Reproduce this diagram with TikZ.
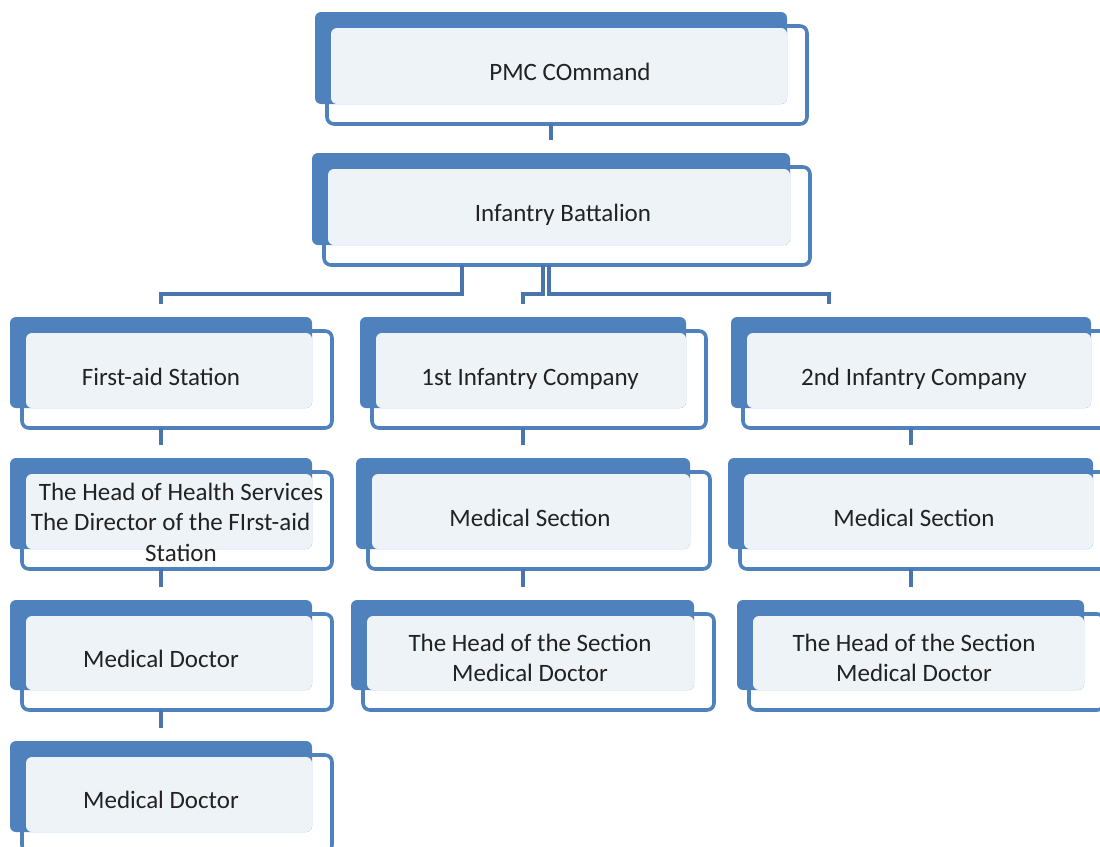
\documentclass[tikz,border=0pt]{standalone}
\usepackage{fontspec}
\setmainfont{Carlito}
\usetikzlibrary{calc}
\definecolor{boxblue}{HTML}{4F81BD}
\definecolor{lightfill}{HTML}{EEF3F8}
\definecolor{connblue}{HTML}{4A74AC}
\definecolor{txtc}{HTML}{222222}
\tikzset{
 outl/.style={draw=boxblue, line width=3.6pt, fill=white, rounded corners=7pt, inner sep=0pt, outer sep=0pt},
 darkb/.style={fill=boxblue, rounded corners=6pt, inner sep=0pt, outer sep=0pt},
 lightb/.style={fill=lightfill, rounded corners=6pt},
 txt/.style={text=txtc, font=\fontsize{25}{30.5}\selectfont, align=center, inner sep=0pt},
 conn/.style={draw=connblue, line width=4pt},
}
\newcommand\orgbox[8]{%
 \pgfmathsetmacro\obW{#4-#2+8}%
 \pgfmathsetmacro\obH{#5-#3+6}%
 \pgfmathsetmacro\obX{(#2+12+#4+20)/2}%
 \pgfmathsetmacro\obY{(#3+14+#5+20)/2}%
 \pgfmathsetmacro\odW{#4-#2}%
 \pgfmathsetmacro\odH{#5-#3}%
 \pgfmathsetmacro\odX{(#2+#4)/2}%
 \pgfmathsetmacro\odY{(#3+#5)/2}%
 \node[outl, minimum width=\obW pt, minimum height=\obH pt] (#1) at (\obX,\obY) {};
 \node[darkb, minimum width=\odW pt, minimum height=\odH pt] (#1-d) at (\odX,\odY) {};
 \fill[lightb] ({#2+16},{#3+16}) rectangle (#4,#5);
 \node[txt] (#1-t) at (#6,#7) {#8};
}
\begin{document}
\begin{tikzpicture}[x=1pt,y=-1pt]
\useasboundingbox (0,0) rectangle (1100,846);
\orgbox{pmc}{315}{12}{787}{104}{570}{72}{PMC COmmand}
\orgbox{bat}{312}{153}{790}{245}{563}{215}{Infantry Battalion}
\orgbox{fa}{10}{317}{312}{408}{161}{377}{First-aid Station}
\orgbox{c1}{360}{317}{686}{408}{530}{379}{1st Infantry Company}
\orgbox{c2}{731}{317}{1091}{408}{914}{379}{2nd Infantry Company}
\orgbox{hh}{10}{458}{312}{549}{181}{522}{The Head of Health Services\\The Director of the FIrst-aid\kern21pt\\Station}
\orgbox{ms1}{356}{458}{690}{549}{530}{518}{Medical Section}
\orgbox{ms2}{728}{458}{1093}{549}{914}{518}{Medical Section}
\orgbox{md1}{10}{600}{312}{690}{161}{659}{Medical Doctor}
\orgbox{hs1}{351}{600}{694}{690}{530}{658}{The Head of the Section\\Medical Doctor}
\orgbox{hs2}{737}{600}{1084}{690}{914}{658}{The Head of the Section\\Medical Doctor}
\orgbox{md2}{10}{741}{312}{832}{161}{800}{Medical Doctor}
% connectors
\draw[conn] (pmc.south -| bat-d.north) -- ($(bat-d.north)+(0,-13)$);
\draw[conn] ($(bat.south)+(-105.5,0)$) |- ($(fa-d.north)+(0,-23)$) -- ($(fa-d.north)+(0,-13)$);
\draw[conn] ($(bat.south)+(-24.5,0)$) |- ($(c1-d.north)+(0,-23)$) -- ($(c1-d.north)+(0,-13)$);
\draw[conn] ($(bat.south)+(-18.5,0)$) |- ($(c2-d.north)+(-82,-23)$) -- ($(c2-d.north)+(-82,-13)$);
\draw[conn] (fa.south -| hh-d.north) -- ($(hh-d.north)+(0,-13)$);
\draw[conn] (c1.south -| ms1-d.north) -- ($(ms1-d.north)+(0,-13)$);
\draw[conn] (c2.south -| ms2-d.north) -- ($(ms2-d.north)+(0,-13)$);
\draw[conn] (hh.south -| md1-d.north) -- ($(md1-d.north)+(0,-13)$);
\draw[conn] (ms1.south -| hs1-d.north) -- ($(hs1-d.north)+(0,-13)$);
\draw[conn] (ms2.south -| hs2-d.north) -- ($(hs2-d.north)+(0,-13)$);
\draw[conn] (md1.south -| md2-d.north) -- ($(md2-d.north)+(0,-13)$);
\end{tikzpicture}
\end{document}
